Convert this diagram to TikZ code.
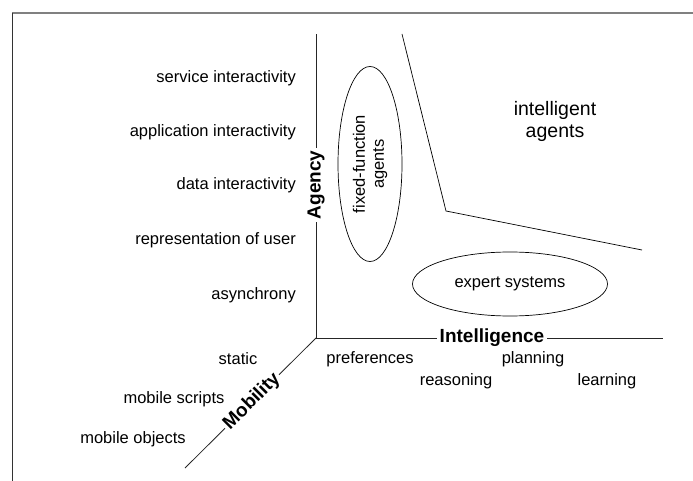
\documentclass[tikz,border=0pt]{standalone}
\usepackage{fontspec}
\setmainfont{Liberation Sans}
\usetikzlibrary{shapes.geometric}
\begin{document}
\begin{tikzpicture}[x=1pt,y=-1pt,
  lbl/.style={font=\fontsize{16.5}{19}\selectfont, inner sep=0pt},
  axislbl/.style={font=\fontsize{19}{22}\selectfont\bfseries, fill=white, inner sep=3pt},
  axisline/.style={line width=0.8pt, black!85},
  oval/.style={ellipse, draw, line width=0.7pt, font=\fontsize{16.5}{19}\selectfont, inner sep=0pt, align=center}]
\useasboundingbox (0,0) rectangle (693,481);
% frame
\draw[line width=1.2pt, black!50] (12,13) -- (693,13);
\draw[line width=1pt, black!80] (12,13) -- (12,481);
% axes
\coordinate (O) at (316,338);
\coordinate (Atop) at (316,34);
\coordinate (Iend) at (663,338);
\coordinate (Mend) at (185,468);
\draw[axisline] (O) -- (Atop);
\draw[axisline] (O) -- (Iend);
\draw[axisline] (O) -- (Mend);
\node[axislbl, rotate=90] (agency) at (316,185) {Agency};
\node[axislbl] (intel) at (492,338) {Intelligence};
\node[axislbl, rotate=45, inner sep=2pt] (mob) at (252,401.5) {Mobility};
% agency levels
\node[lbl, anchor=east] (l1) at (296,78) {service interactivity};
\node[lbl, anchor=east] (l2) at (296,132) {application interactivity};
\node[lbl, anchor=east] (l3) at (296,185) {data interactivity};
\node[lbl, anchor=east] (l4) at (296,240) {representation of user};
\node[lbl, anchor=east] (l5) at (296,295) {asynchrony};
% mobility levels
\node[lbl] (m1) at (238,359) {static};
\node[lbl] (m2) at (174,399) {mobile scripts};
\node[lbl] (m3) at (133,439) {mobile objects};
% intelligence levels
\node[lbl] (i1) at (370,359) {preferences};
\node[lbl] (i2) at (533,359) {planning};
\node[lbl] (i3) at (456,381) {reasoning};
\node[lbl] (i4) at (607,381) {learning};
% regions
\node[oval, rotate=90, minimum width=195, minimum height=64] (ffa) at (370,164) {fixed-function\\agents};
\node[oval, minimum width=195, minimum height=64] (exp) at (510,284) {expert systems};
\coordinate (b1) at (402,34);
\coordinate (b2) at (446,211);
\coordinate (b3) at (642,250);
\draw[line width=0.7pt] (b1) -- (b2) -- (b3);
\node[font=\fontsize{19.5}{22}\selectfont, inner sep=0pt, align=center] (ia) at (555,121) {intelligent\\agents};
\end{tikzpicture}
\end{document}
